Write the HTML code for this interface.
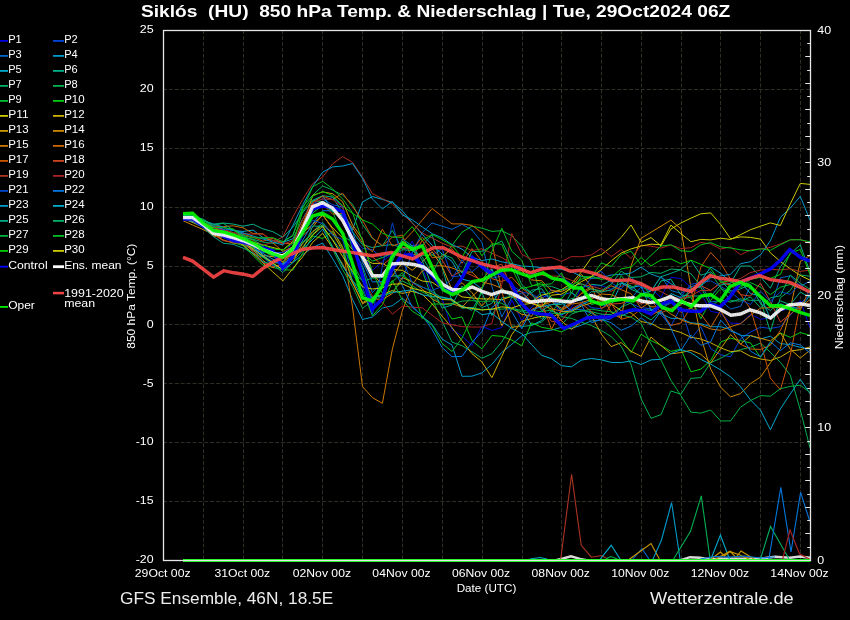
<!DOCTYPE html>
<html><head><meta charset="utf-8"><title>Siklos GFS Ensemble</title>
<style>html,body{margin:0;padding:0;background:#000;width:850px;height:620px;overflow:hidden}svg{display:block;will-change:transform}text{font-family:"Liberation Sans",sans-serif}</style>
</head><body>
<svg width="850" height="620" viewBox="0 0 850 620">
<rect width="850" height="620" fill="#000"/>
<path d="M203.5 30.2V560.5M243.5 30.2V560.5M282.5 30.2V560.5M322.5 30.2V560.5M362.5 30.2V560.5M402.5 30.2V560.5M442.5 30.2V560.5M482.5 30.2V560.5M522.5 30.2V560.5M561.5 30.2V560.5M601.5 30.2V560.5M641.5 30.2V560.5M681.5 30.2V560.5M720.5 30.2V560.5M760.5 30.2V560.5M800.5 30.2V560.5" stroke="#2f2e24" stroke-width="1" stroke-dasharray="4 1.9" fill="none"/>
<path d="M163.0 501.5H810.5M163.0 442.5H810.5M163.0 383.5H810.5M163.0 324.5H810.5M163.0 266.5H810.5M163.0 207.5H810.5M163.0 148.5H810.5M163.0 89.5H810.5" stroke="#2f2e24" stroke-width="1" stroke-dasharray="4 1.9" fill="none"/>
<polyline points="183.4,217.4 193.3,218.5 203.3,221.8 213.2,230.0 223.2,235.6 233.2,235.5 243.1,236.0 253.1,245.7 263.0,252.1 272.9,252.0 282.9,256.7 292.9,241.4 302.8,225.3 312.8,204.9 322.7,202.6 332.6,208.8 342.6,217.8 352.5,236.5 362.5,252.3 372.4,270.4 382.4,261.2 392.4,253.8 402.3,256.9 412.2,241.3 422.2,267.4 432.1,292.8 442.1,298.3 452.0,329.6 462.0,335.9 471.9,345.5 481.9,326.2 491.9,330.4 501.8,327.5 511.8,299.9 521.7,320.5 531.6,307.1 541.6,295.7 551.5,297.8 561.5,315.6 571.4,307.5 581.4,287.2 591.4,286.0 601.3,285.7 611.2,289.2 621.2,282.6 631.1,289.3 641.1,283.7 651.0,288.1 661.0,297.6 670.9,277.3 680.9,278.6 690.9,287.5 700.8,293.0 710.7,311.3 720.7,313.3 730.6,322.9 740.6,323.7 750.5,314.3 760.5,319.2 770.4,318.0 780.4,310.6 790.3,308.8 800.3,300.7 810.0,327.7" fill="none" stroke="#0000dd" stroke-width="1.0" stroke-linejoin="miter"/>
<polyline points="183.4,217.4 193.3,217.8 203.3,223.8 213.2,231.8 223.2,229.3 233.2,233.8 243.1,240.8 253.1,250.3 263.0,252.3 272.9,252.5 282.9,252.6 292.9,246.6 302.8,225.6 312.8,204.0 322.7,198.8 332.6,204.7 342.6,207.0 352.5,237.2 362.5,248.3 372.4,249.8 382.4,257.8 392.4,253.6 402.3,244.5 412.2,245.5 422.2,244.7 432.1,254.7 442.1,248.8 452.0,276.7 462.0,275.7 471.9,257.3 481.9,268.0 491.9,278.2 501.8,276.1 511.8,285.5 521.7,292.0 531.6,294.1 541.6,299.6 551.5,289.7 561.5,295.5 571.4,292.3 581.4,300.8 591.4,307.6 601.3,308.9 611.2,299.8 621.2,299.4 631.1,303.8 641.1,307.7 651.0,308.7 661.0,314.7 670.9,326.1 680.9,307.0 690.9,339.0 700.8,326.7 710.7,348.8 720.7,354.8 730.6,356.8 740.6,338.8 750.5,332.0 760.5,327.2 770.4,328.5 780.4,326.6 790.3,315.3 800.3,303.3 810.0,295.0" fill="none" stroke="#0044dd" stroke-width="1.0" stroke-linejoin="miter"/>
<polyline points="183.4,217.1 193.3,217.9 203.3,223.5 213.2,229.3 223.2,231.5 233.2,235.2 243.1,242.9 253.1,247.2 263.0,256.8 272.9,266.0 282.9,267.8 292.9,251.5 302.8,228.2 312.8,210.6 322.7,201.8 332.6,197.4 342.6,206.0 352.5,246.9 362.5,266.1 372.4,292.6 382.4,282.2 392.4,274.3 402.3,279.1 412.2,253.2 422.2,232.6 432.1,223.0 442.1,226.2 452.0,229.3 462.0,224.3 471.9,230.0 481.9,242.2 491.9,286.5 501.8,317.0 511.8,297.5 521.7,293.1 531.6,302.4 541.6,291.9 551.5,297.7 561.5,311.5 571.4,309.8 581.4,309.4 591.4,313.2 601.3,321.1 611.2,318.8 621.2,306.9 631.1,298.6 641.1,286.8 651.0,291.2 661.0,276.4 670.9,290.5 680.9,293.3 690.9,286.8 700.8,283.4 710.7,302.0 720.7,300.6 730.6,309.1 740.6,306.3 750.5,286.4 760.5,298.5 770.4,306.9 780.4,277.9 790.3,275.7 800.3,286.3 810.0,281.0" fill="none" stroke="#0066cc" stroke-width="1.0" stroke-linejoin="miter"/>
<polyline points="183.4,217.2 193.3,221.7 203.3,226.1 213.2,230.6 223.2,235.1 233.2,239.6 243.1,244.1 253.1,250.5 263.0,257.0 272.9,263.5 282.9,269.9 292.9,262.6 302.8,254.6 312.8,247.4 322.7,243.0 332.6,258.6 342.6,275.6 352.5,299.4 362.5,319.5 372.4,317.0 382.4,308.0 392.4,305.7 402.3,298.3 412.2,305.6 422.2,316.4 432.1,324.2 442.1,339.2 452.0,344.9 462.0,376.3 471.9,376.2 481.9,372.9 491.9,364.4 501.8,352.3 511.8,344.3 521.7,336.0 531.6,332.2 541.6,331.5 551.5,330.1 561.5,327.3 571.4,328.5 581.4,325.1 591.4,320.9 601.3,320.4 611.2,315.8 621.2,316.0 631.1,311.6 641.1,309.4 651.0,310.3 661.0,313.6 670.9,318.3 680.9,318.5 690.9,322.8 700.8,323.7 710.7,326.7 720.7,326.7 730.6,329.5 740.6,335.6 750.5,335.7 760.5,339.0 770.4,336.2 780.4,343.6 790.3,344.7 800.3,347.3 810.0,349.2" fill="none" stroke="#0099cc" stroke-width="1.0" stroke-linejoin="miter"/>
<polyline points="183.4,217.4 193.3,217.4 203.3,225.6 213.2,231.7 223.2,231.9 233.2,230.6 243.1,231.4 253.1,230.1 263.0,237.7 272.9,240.5 282.9,242.2 292.9,238.9 302.8,218.7 312.8,201.6 322.7,195.8 332.6,210.6 342.6,215.9 352.5,229.6 362.5,202.0 372.4,196.5 382.4,199.4 392.4,202.4 402.3,210.8 412.2,222.7 422.2,234.2 432.1,245.2 442.1,254.1 452.0,261.3 462.0,279.1 471.9,281.6 481.9,288.9 491.9,269.0 501.8,291.8 511.8,295.4 521.7,308.6 531.6,325.3 541.6,320.5 551.5,310.9 561.5,314.6 571.4,310.2 581.4,304.7 591.4,300.3 601.3,304.9 611.2,305.1 621.2,283.4 631.1,287.5 641.1,285.7 651.0,310.0 661.0,305.9 670.9,293.6 680.9,297.6 690.9,292.1 700.8,281.5 710.7,267.0 720.7,273.3 730.6,281.9 740.6,281.8 750.5,293.7 760.5,295.9 770.4,318.8 780.4,303.8 790.3,307.4 800.3,308.4 810.0,295.1" fill="none" stroke="#00aacc" stroke-width="1.0" stroke-linejoin="miter"/>
<polyline points="183.4,215.0 193.3,216.1 203.3,220.2 213.2,224.1 223.2,223.0 233.2,224.1 243.1,226.2 253.1,224.2 263.0,228.9 272.9,231.7 282.9,237.3 292.9,227.2 302.8,212.6 312.8,200.1 322.7,195.7 332.6,197.0 342.6,212.9 352.5,231.9 362.5,244.7 372.4,247.5 382.4,245.6 392.4,244.6 402.3,248.0 412.2,247.4 422.2,245.6 432.1,234.7 442.1,267.3 452.0,301.5 462.0,305.7 471.9,310.3 481.9,292.6 491.9,315.5 501.8,297.8 511.8,296.6 521.7,302.4 531.6,290.2 541.6,288.7 551.5,301.6 561.5,310.0 571.4,292.6 581.4,299.8 591.4,284.3 601.3,285.4 611.2,280.1 621.2,281.4 631.1,289.3 641.1,293.5 651.0,299.3 661.0,280.9 670.9,279.3 680.9,295.0 690.9,296.0 700.8,296.0 710.7,296.4 720.7,285.0 730.6,283.3 740.6,266.1 750.5,266.0 760.5,276.8 770.4,288.2 780.4,266.8 790.3,253.8 800.3,244.9 810.0,271.9" fill="none" stroke="#00b088" stroke-width="1.0" stroke-linejoin="miter"/>
<polyline points="183.4,217.9 193.3,219.9 203.3,225.6 213.2,233.0 223.2,235.4 233.2,238.3 243.1,237.7 253.1,239.3 263.0,242.1 272.9,243.4 282.9,242.0 292.9,235.0 302.8,206.5 312.8,195.1 322.7,185.9 332.6,190.1 342.6,195.1 352.5,204.2 362.5,224.4 372.4,238.5 382.4,245.8 392.4,230.4 402.3,249.3 412.2,245.9 422.2,270.7 432.1,298.1 442.1,321.1 452.0,342.1 462.0,345.7 471.9,351.7 481.9,358.3 491.9,353.7 501.8,341.8 511.8,326.1 521.7,326.6 531.6,325.4 541.6,322.0 551.5,313.4 561.5,324.6 571.4,314.1 581.4,310.5 591.4,311.6 601.3,314.2 611.2,314.6 621.2,307.2 631.1,302.9 641.1,314.0 651.0,320.0 661.0,310.5 670.9,300.5 680.9,301.4 690.9,288.4 700.8,287.1 710.7,305.5 720.7,299.9 730.6,302.1 740.6,298.8 750.5,300.4 760.5,300.3 770.4,331.8 780.4,297.6 790.3,290.5 800.3,275.0 810.0,276.2" fill="none" stroke="#00b060" stroke-width="1.0" stroke-linejoin="miter"/>
<polyline points="183.4,217.2 193.3,221.0 203.3,224.8 213.2,228.6 223.2,232.4 233.2,236.2 243.1,240.1 253.1,245.5 263.0,251.0 272.9,256.5 282.9,261.9 292.9,252.1 302.8,243.7 312.8,231.5 322.7,222.4 332.6,234.8 342.6,248.3 352.5,263.5 362.5,281.4 372.4,278.2 382.4,277.5 392.4,276.2 402.3,275.7 412.2,281.8 422.2,286.9 432.1,291.7 442.1,297.9 452.0,299.3 462.0,308.3 471.9,307.5 481.9,309.6 491.9,309.0 501.8,309.1 511.8,308.5 521.7,310.3 531.6,310.8 541.6,311.6 551.5,310.0 561.5,316.6 571.4,318.4 581.4,322.1 591.4,325.5 601.3,330.4 611.2,336.7 621.2,346.2 631.1,364.6 641.1,398.9 651.0,418.3 661.0,414.6 670.9,391.0 680.9,394.2 690.9,378.4 700.8,377.6 710.7,362.7 720.7,358.3 730.6,352.7 740.6,349.6 750.5,347.2 760.5,343.1 770.4,352.3 780.4,362.3 790.3,375.2 800.3,410.0 810.0,447.8" fill="none" stroke="#00b050" stroke-width="1.0" stroke-linejoin="miter"/>
<polyline points="183.4,217.9 193.3,218.8 203.3,224.0 213.2,233.1 223.2,237.2 233.2,240.4 243.1,244.7 253.1,253.6 263.0,257.4 272.9,262.5 282.9,263.8 292.9,246.9 302.8,231.2 312.8,200.9 322.7,201.5 332.6,211.4 342.6,235.8 352.5,242.3 362.5,252.2 372.4,261.2 382.4,257.6 392.4,252.8 402.3,255.8 412.2,254.3 422.2,255.3 432.1,255.0 442.1,259.4 452.0,245.3 462.0,232.2 471.9,226.2 481.9,228.1 491.9,231.4 501.8,230.7 511.8,235.7 521.7,246.3 531.6,262.3 541.6,299.2 551.5,311.4 561.5,301.2 571.4,301.8 581.4,285.7 591.4,304.6 601.3,301.8 611.2,297.6 621.2,275.4 631.1,288.3 641.1,282.0 651.0,296.4 661.0,305.8 670.9,302.5 680.9,299.2 690.9,297.0 700.8,318.8 710.7,300.3 720.7,288.5 730.6,293.2 740.6,285.8 750.5,282.6 760.5,287.2 770.4,294.6 780.4,287.2 790.3,284.5 800.3,288.4 810.0,292.8" fill="none" stroke="#00c030" stroke-width="1.0" stroke-linejoin="miter"/>
<polyline points="183.4,218.1 193.3,218.3 203.3,225.5 213.2,233.3 223.2,235.1 233.2,242.6 243.1,245.6 253.1,255.8 263.0,265.2 272.9,267.4 282.9,269.8 292.9,270.1 302.8,252.9 312.8,235.9 322.7,238.5 332.6,231.3 342.6,246.6 352.5,281.2 362.5,290.3 372.4,315.9 382.4,304.6 392.4,281.8 402.3,272.5 412.2,286.8 422.2,318.5 432.1,304.0 442.1,304.0 452.0,319.0 462.0,316.9 471.9,340.6 481.9,348.9 491.9,335.5 501.8,336.3 511.8,340.1 521.7,345.8 531.6,322.8 541.6,327.3 551.5,329.1 561.5,331.9 571.4,326.9 581.4,321.9 591.4,312.5 601.3,318.0 611.2,327.7 621.2,339.0 631.1,352.5 641.1,334.2 651.0,340.6 661.0,345.3 670.9,351.4 680.9,349.2 690.9,371.8 700.8,369.2 710.7,360.6 720.7,342.1 730.6,338.1 740.6,340.7 750.5,342.9 760.5,357.3 770.4,343.4 780.4,333.1 790.3,337.4 800.3,332.5 810.0,335.3" fill="none" stroke="#00cc10" stroke-width="1.0" stroke-linejoin="miter"/>
<polyline points="183.4,216.2 193.3,220.1 203.3,224.1 213.2,228.1 223.2,232.1 233.2,236.1 243.1,240.0 253.1,242.5 263.0,245.0 272.9,247.5 282.9,250.0 292.9,241.4 302.8,232.7 312.8,224.3 322.7,215.3 332.6,227.8 342.6,237.9 352.5,249.6 362.5,258.1 372.4,263.4 382.4,263.3 392.4,269.5 402.3,270.3 412.2,276.2 422.2,281.0 432.1,282.2 442.1,289.0 452.0,290.6 462.0,296.9 471.9,297.9 481.9,298.9 491.9,299.0 501.8,299.8 511.8,296.2 521.7,298.5 531.6,301.7 541.6,295.2 551.5,292.8 561.5,289.5 571.4,283.8 581.4,271.9 591.4,257.7 601.3,254.7 611.2,247.0 621.2,237.4 631.1,225.0 641.1,242.4 651.0,237.6 661.0,245.9 670.9,229.1 680.9,223.0 690.9,218.2 700.8,213.8 710.7,212.9 720.7,224.5 730.6,238.8 740.6,236.9 750.5,237.4 760.5,239.1 770.4,252.8 780.4,261.5 790.3,268.8 800.3,275.4 810.0,280.2" fill="none" stroke="#cccc00" stroke-width="1.0" stroke-linejoin="miter"/>
<polyline points="183.4,216.2 193.3,221.0 203.3,225.8 213.2,230.6 223.2,235.4 233.2,240.2 243.1,245.1 253.1,254.0 263.0,263.0 272.9,272.0 282.9,280.9 292.9,268.4 302.8,256.7 312.8,242.2 322.7,233.3 332.6,248.1 342.6,264.2 352.5,282.9 362.5,302.7 372.4,297.3 382.4,294.6 392.4,290.4 402.3,293.4 412.2,291.4 422.2,294.3 432.1,303.9 442.1,316.2 452.0,327.6 462.0,340.8 471.9,353.6 481.9,361.9 491.9,377.6 501.8,356.3 511.8,334.6 521.7,321.3 531.6,318.5 541.6,316.2 551.5,317.8 561.5,311.7 571.4,311.6 581.4,306.0 591.4,303.0 601.3,300.6 611.2,303.9 621.2,310.6 631.1,312.9 641.1,321.6 651.0,323.3 661.0,328.8 670.9,329.6 680.9,332.5 690.9,337.2 700.8,339.0 710.7,342.8 720.7,347.9 730.6,351.6 740.6,350.8 750.5,356.3 760.5,359.0 770.4,360.5 780.4,357.0 790.3,351.0 800.3,349.7 810.0,346.9" fill="none" stroke="#ccb000" stroke-width="1.0" stroke-linejoin="miter"/>
<polyline points="183.4,218.7 193.3,222.8 203.3,227.1 213.2,236.1 223.2,237.3 233.2,241.3 243.1,240.4 253.1,243.2 263.0,255.5 272.9,256.7 282.9,254.2 292.9,251.1 302.8,225.1 312.8,195.3 322.7,191.9 332.6,193.7 342.6,201.7 352.5,224.9 362.5,239.1 372.4,273.4 382.4,285.1 392.4,275.7 402.3,263.0 412.2,270.3 422.2,262.1 432.1,251.7 442.1,266.4 452.0,289.7 462.0,282.7 471.9,292.6 481.9,305.9 491.9,294.8 501.8,325.7 511.8,308.3 521.7,314.2 531.6,316.3 541.6,296.9 551.5,307.2 561.5,320.8 571.4,329.4 581.4,321.5 591.4,315.6 601.3,334.1 611.2,346.6 621.2,342.6 631.1,351.3 641.1,356.3 651.0,337.1 661.0,345.6 670.9,353.8 680.9,352.6 690.9,350.3 700.8,354.3 710.7,363.0 720.7,348.7 730.6,334.5 740.6,344.2 750.5,335.5 760.5,338.3 770.4,340.9 780.4,332.8 790.3,349.1 800.3,358.0 810.0,350.3" fill="none" stroke="#cc9900" stroke-width="1.0" stroke-linejoin="miter"/>
<polyline points="183.4,220.9 193.3,225.3 203.3,229.7 213.2,234.3 223.2,239.9 233.2,243.2 243.1,243.0 253.1,250.2 263.0,260.4 272.9,267.7 282.9,263.0 292.9,262.3 302.8,242.7 312.8,231.5 322.7,224.7 332.6,232.8 342.6,251.1 352.5,282.1 362.5,303.8 372.4,298.7 382.4,299.5 392.4,293.5 402.3,277.5 412.2,282.0 422.2,288.9 432.1,299.0 442.1,304.2 452.0,303.6 462.0,307.2 471.9,296.6 481.9,287.3 491.9,274.0 501.8,268.1 511.8,270.5 521.7,270.8 531.6,279.9 541.6,280.8 551.5,290.7 561.5,291.6 571.4,286.9 581.4,274.2 591.4,286.6 601.3,295.7 611.2,312.1 621.2,318.5 631.1,265.8 641.1,238.3 651.0,232.3 661.0,226.2 670.9,220.1 680.9,228.9 690.9,287.6 700.8,336.8 710.7,369.2 720.7,387.3 730.6,396.9 740.6,393.6 750.5,383.6 760.5,377.1 770.4,362.8 780.4,348.6 790.3,309.3 800.3,261.5 810.0,255.5" fill="none" stroke="#cc8800" stroke-width="1.0" stroke-linejoin="miter"/>
<polyline points="183.4,216.1 193.3,219.8 203.3,223.4 213.2,227.1 223.2,230.7 233.2,234.4 243.1,238.1 253.1,244.0 263.0,250.0 272.9,256.0 282.9,261.9 292.9,248.7 302.8,235.5 312.8,227.0 322.7,214.4 332.6,229.3 342.6,247.6 352.5,307.0 362.5,386.5 372.4,397.6 382.4,403.3 392.4,348.9 402.3,310.8 412.2,285.0 422.2,271.0 432.1,265.9 442.1,265.7 452.0,267.9 462.0,271.9 471.9,272.1 481.9,281.9 491.9,284.4 501.8,288.3 511.8,296.2 521.7,301.2 531.6,303.6 541.6,305.1 551.5,309.0 561.5,310.8 571.4,304.1 581.4,302.7 591.4,299.2 601.3,294.0 611.2,294.7 621.2,299.1 631.1,299.4 641.1,299.3 651.0,306.8 661.0,307.0 670.9,314.0 680.9,319.8 690.9,323.5 700.8,324.9 710.7,329.0 720.7,330.3 730.6,326.7 740.6,323.7 750.5,315.4 760.5,308.0 770.4,307.7 780.4,307.5 790.3,303.6 800.3,307.0 810.0,299.6" fill="none" stroke="#cc7700" stroke-width="1.0" stroke-linejoin="miter"/>
<polyline points="183.4,215.2 193.3,217.1 203.3,220.5 213.2,226.0 223.2,226.6 233.2,225.8 243.1,227.8 253.1,233.5 263.0,233.8 272.9,242.9 282.9,251.4 292.9,246.9 302.8,226.8 312.8,206.7 322.7,204.3 332.6,214.0 342.6,213.4 352.5,227.7 362.5,242.9 372.4,251.7 382.4,229.2 392.4,246.0 402.3,242.6 412.2,232.1 422.2,220.1 432.1,208.6 442.1,216.3 452.0,223.9 462.0,223.9 471.9,225.4 481.9,232.7 491.9,242.2 501.8,291.4 511.8,327.7 521.7,325.2 531.6,309.4 541.6,305.1 551.5,301.7 561.5,308.3 571.4,302.7 581.4,293.7 591.4,288.6 601.3,291.8 611.2,285.8 621.2,289.7 631.1,293.8 641.1,308.1 651.0,301.6 661.0,299.7 670.9,300.1 680.9,312.4 690.9,307.9 700.8,314.1 710.7,327.3 720.7,310.8 730.6,328.1 740.6,344.3 750.5,349.0 760.5,349.4 770.4,345.2 780.4,330.4 790.3,309.7 800.3,310.2 810.0,287.7" fill="none" stroke="#cc6600" stroke-width="1.0" stroke-linejoin="miter"/>
<polyline points="183.4,218.0 193.3,220.1 203.3,227.7 213.2,234.2 223.2,233.9 233.2,236.9 243.1,234.4 253.1,237.2 263.0,241.2 272.9,238.3 282.9,243.6 292.9,243.6 302.8,222.5 312.8,202.5 322.7,196.2 332.6,199.8 342.6,193.1 352.5,206.7 362.5,220.3 372.4,237.9 382.4,245.8 392.4,237.2 402.3,235.1 412.2,259.1 422.2,240.1 432.1,257.8 442.1,256.5 452.0,248.6 462.0,263.3 471.9,248.6 481.9,261.3 491.9,278.7 501.8,281.5 511.8,277.2 521.7,288.1 531.6,295.3 541.6,301.6 551.5,329.3 561.5,309.8 571.4,303.6 581.4,293.1 591.4,286.3 601.3,308.5 611.2,303.4 621.2,319.3 631.1,316.7 641.1,309.2 651.0,315.0 661.0,310.3 670.9,325.6 680.9,322.9 690.9,307.4 700.8,267.2 710.7,252.5 720.7,263.1 730.6,279.4 740.6,294.4 750.5,309.1 760.5,341.6 770.4,378.1 780.4,389.8 790.3,355.4 800.3,303.7 810.0,304.2" fill="none" stroke="#cc5500" stroke-width="1.0" stroke-linejoin="miter"/>
<polyline points="183.4,219.3 193.3,220.7 203.3,227.5 213.2,234.4 223.2,240.7 233.2,242.1 243.1,242.6 253.1,251.7 263.0,262.8 272.9,266.9 282.9,265.0 292.9,250.5 302.8,230.7 312.8,203.8 322.7,206.9 332.6,207.4 342.6,222.1 352.5,235.9 362.5,255.5 372.4,256.8 382.4,265.2 392.4,256.9 402.3,247.3 412.2,249.4 422.2,237.3 432.1,248.7 442.1,259.9 452.0,276.0 462.0,270.8 471.9,275.3 481.9,280.2 491.9,267.4 501.8,264.2 511.8,289.7 521.7,291.9 531.6,301.6 541.6,307.8 551.5,321.5 561.5,320.5 571.4,309.0 581.4,303.4 591.4,311.6 601.3,321.5 611.2,304.0 621.2,303.5 631.1,298.5 641.1,304.1 651.0,299.6 661.0,313.1 670.9,308.1 680.9,305.1 690.9,290.1 700.8,285.7 710.7,290.3 720.7,282.5 730.6,285.0 740.6,294.7 750.5,296.1 760.5,282.9 770.4,301.7 780.4,322.0 790.3,314.3 800.3,305.6 810.0,303.6" fill="none" stroke="#cc4422" stroke-width="1.0" stroke-linejoin="miter"/>
<polyline points="183.4,216.1 193.3,219.4 203.3,222.8 213.2,226.1 223.2,229.4 233.2,232.7 243.1,236.0 253.1,240.5 263.0,245.0 272.9,242.3 282.9,236.8 292.9,216.9 302.8,199.3 312.8,183.5 322.7,177.0 332.6,163.8 342.6,156.6 352.5,162.3 362.5,177.2 372.4,193.8 382.4,198.5 392.4,204.2 402.3,213.5 412.2,223.0 422.2,233.1 432.1,238.0 442.1,243.2 452.0,247.0 462.0,246.0 471.9,250.6 481.9,248.8 491.9,253.3 501.8,257.6 511.8,263.9 521.7,268.9 531.6,271.8 541.6,275.2 551.5,276.0 561.5,276.4 571.4,280.3 581.4,284.3 591.4,286.2 601.3,289.0 611.2,291.3 621.2,286.3 631.1,283.3 641.1,285.5 651.0,287.9 661.0,291.5 670.9,297.0 680.9,298.6 690.9,295.7 700.8,290.4 710.7,290.7 720.7,282.9 730.6,281.4 740.6,278.5 750.5,272.5 760.5,270.1 770.4,269.4 780.4,269.9 790.3,268.8 800.3,271.4 810.0,270.1" fill="none" stroke="#aa3322" stroke-width="1.0" stroke-linejoin="miter"/>
<polyline points="183.4,215.8 193.3,217.5 203.3,224.5 213.2,228.5 223.2,229.9 233.2,232.7 243.1,233.6 253.1,234.1 263.0,234.2 272.9,240.3 282.9,244.1 292.9,240.6 302.8,218.9 312.8,202.4 322.7,198.9 332.6,199.5 342.6,206.7 352.5,244.8 362.5,277.2 372.4,296.0 382.4,302.4 392.4,314.2 402.3,306.2 412.2,307.2 422.2,307.8 432.1,315.2 442.1,322.7 452.0,324.8 462.0,326.7 471.9,327.0 481.9,327.0 491.9,323.4 501.8,284.3 511.8,233.5 521.7,254.2 531.6,259.4 541.6,258.1 551.5,257.5 561.5,261.4 571.4,256.6 581.4,256.8 591.4,254.9 601.3,248.3 611.2,256.5 621.2,249.5 631.1,258.5 641.1,245.1 651.0,246.2 661.0,248.1 670.9,244.9 680.9,248.6 690.9,247.7 700.8,242.3 710.7,243.9 720.7,249.0 730.6,246.9 740.6,254.8 750.5,250.0 760.5,248.9 770.4,247.4 780.4,243.9 790.3,239.8 800.3,239.5 810.0,243.2" fill="none" stroke="#aa2222" stroke-width="1.0" stroke-linejoin="miter"/>
<polyline points="183.4,215.5 193.3,216.7 203.3,221.9 213.2,233.0 223.2,230.0 233.2,236.7 243.1,241.3 253.1,244.5 263.0,249.8 272.9,255.6 282.9,255.8 292.9,249.0 302.8,231.7 312.8,220.4 322.7,223.5 332.6,235.1 342.6,239.6 352.5,274.9 362.5,287.2 372.4,314.4 382.4,266.5 392.4,222.9 402.3,259.8 412.2,282.8 422.2,287.2 432.1,290.3 442.1,286.7 452.0,279.5 462.0,259.8 471.9,271.8 481.9,264.2 491.9,266.7 501.8,269.4 511.8,269.8 521.7,269.6 531.6,274.3 541.6,269.0 551.5,266.3 561.5,277.4 571.4,283.8 581.4,290.4 591.4,277.8 601.3,271.1 611.2,282.9 621.2,288.9 631.1,276.9 641.1,287.8 651.0,300.1 661.0,307.9 670.9,303.2 680.9,296.3 690.9,284.3 700.8,282.6 710.7,280.8 720.7,286.5 730.6,291.9 740.6,300.2 750.5,304.5 760.5,291.2 770.4,301.1 780.4,291.9 790.3,294.3 800.3,283.3 810.0,296.7" fill="none" stroke="#0044cc" stroke-width="1.0" stroke-linejoin="miter"/>
<polyline points="183.4,214.4 193.3,217.1 203.3,220.4 213.2,226.6 223.2,229.1 233.2,229.7 243.1,234.5 253.1,245.6 263.0,255.4 272.9,261.8 282.9,263.6 292.9,258.1 302.8,240.0 312.8,223.4 322.7,210.7 332.6,210.9 342.6,210.7 352.5,231.2 362.5,262.4 372.4,281.9 382.4,281.6 392.4,267.7 402.3,285.4 412.2,307.1 422.2,315.5 432.1,329.5 442.1,347.5 452.0,356.7 462.0,356.4 471.9,342.5 481.9,331.6 491.9,307.6 501.8,299.3 511.8,311.7 521.7,328.6 531.6,310.3 541.6,306.4 551.5,304.7 561.5,302.6 571.4,310.7 581.4,304.6 591.4,322.8 601.3,319.2 611.2,322.8 621.2,330.3 631.1,326.1 641.1,317.8 651.0,325.2 661.0,310.9 670.9,328.2 680.9,350.6 690.9,335.0 700.8,345.3 710.7,341.9 720.7,320.1 730.6,331.1 740.6,334.6 750.5,351.2 760.5,356.8 770.4,341.6 780.4,350.6 790.3,342.8 800.3,344.9 810.0,352.9" fill="none" stroke="#0077dd" stroke-width="1.0" stroke-linejoin="miter"/>
<polyline points="183.4,215.1 193.3,218.1 203.3,221.1 213.2,224.1 223.2,227.1 233.2,230.0 243.1,233.0 253.1,236.0 263.0,239.0 272.9,242.0 282.9,245.0 292.9,225.3 302.8,204.5 312.8,186.3 322.7,172.1 332.6,166.9 342.6,166.0 352.5,163.5 362.5,178.3 372.4,199.0 382.4,208.9 392.4,201.5 402.3,214.9 412.2,219.8 422.2,226.9 432.1,233.6 442.1,237.9 452.0,244.6 462.0,249.1 471.9,257.3 481.9,260.5 491.9,259.0 501.8,261.8 511.8,263.7 521.7,266.0 531.6,266.6 541.6,267.6 551.5,268.3 561.5,269.4 571.4,271.7 581.4,276.4 591.4,278.3 601.3,277.7 611.2,275.0 621.2,274.4 631.1,273.0 641.1,267.1 651.0,274.1 661.0,277.6 670.9,283.6 680.9,289.9 690.9,290.1 700.8,286.0 710.7,277.8 720.7,275.9 730.6,274.3 740.6,263.7 750.5,261.7 760.5,254.9 770.4,240.8 780.4,217.4 790.3,208.1 800.3,196.4 810.0,220.2" fill="none" stroke="#0099cc" stroke-width="1.0" stroke-linejoin="miter"/>
<polyline points="183.4,218.2 193.3,222.1 203.3,226.1 213.2,230.1 223.2,234.1 233.2,238.1 243.1,242.1 253.1,247.8 263.0,253.5 272.9,259.2 282.9,264.9 292.9,256.4 302.8,249.7 312.8,239.2 322.7,229.0 332.6,246.5 342.6,266.1 352.5,280.3 362.5,298.2 372.4,297.4 382.4,295.8 392.4,292.5 402.3,291.2 412.2,289.8 422.2,294.8 432.1,296.6 442.1,297.0 452.0,299.1 462.0,307.3 471.9,307.7 481.9,314.7 491.9,313.2 501.8,321.4 511.8,328.4 521.7,333.7 531.6,344.6 541.6,355.3 551.5,358.7 561.5,365.7 571.4,366.8 581.4,360.1 591.4,358.5 601.3,359.8 611.2,362.4 621.2,362.6 631.1,360.9 641.1,364.5 651.0,359.9 661.0,359.3 670.9,353.8 680.9,349.6 690.9,352.7 700.8,359.4 710.7,364.1 720.7,370.0 730.6,376.9 740.6,386.8 750.5,399.9 760.5,410.2 770.4,429.7 780.4,408.9 790.3,393.9 800.3,379.3 810.0,393.7" fill="none" stroke="#00aacc" stroke-width="1.0" stroke-linejoin="miter"/>
<polyline points="183.4,217.7 193.3,221.3 203.3,227.9 213.2,236.4 223.2,243.2 233.2,244.3 243.1,248.1 253.1,253.1 263.0,261.9 272.9,264.4 282.9,272.6 292.9,262.1 302.8,250.3 312.8,225.8 322.7,226.7 332.6,239.4 342.6,252.5 352.5,273.6 362.5,280.1 372.4,298.3 382.4,294.8 392.4,261.5 402.3,239.0 412.2,245.8 422.2,260.1 432.1,287.0 442.1,308.1 452.0,305.0 462.0,286.0 471.9,297.5 481.9,307.6 491.9,303.4 501.8,288.7 511.8,297.7 521.7,287.2 531.6,293.2 541.6,310.7 551.5,304.6 561.5,304.4 571.4,298.5 581.4,300.7 591.4,291.6 601.3,292.1 611.2,289.8 621.2,282.7 631.1,285.9 641.1,294.2 651.0,291.0 661.0,276.7 670.9,273.4 680.9,269.4 690.9,260.3 700.8,275.3 710.7,271.9 720.7,280.1 730.6,291.0 740.6,288.9 750.5,284.3 760.5,303.7 770.4,310.7 780.4,300.9 790.3,304.7 800.3,292.1 810.0,297.3" fill="none" stroke="#00aa88" stroke-width="1.0" stroke-linejoin="miter"/>
<polyline points="183.4,214.5 193.3,216.2 203.3,219.2 213.2,225.4 223.2,223.3 233.2,229.9 243.1,236.8 253.1,239.7 263.0,246.2 272.9,255.6 282.9,257.9 292.9,247.4 302.8,233.9 312.8,212.9 322.7,205.2 332.6,211.2 342.6,215.2 352.5,249.1 362.5,268.1 372.4,304.3 382.4,285.2 392.4,256.8 402.3,249.6 412.2,250.6 422.2,256.8 432.1,273.7 442.1,254.1 452.0,258.0 462.0,273.1 471.9,251.6 481.9,251.3 491.9,245.9 501.8,241.0 511.8,261.5 521.7,284.7 531.6,292.8 541.6,285.7 551.5,286.4 561.5,290.1 571.4,286.7 581.4,283.7 591.4,289.2 601.3,290.7 611.2,284.3 621.2,271.1 631.1,277.5 641.1,276.8 651.0,272.5 661.0,273.3 670.9,269.0 680.9,269.8 690.9,273.7 700.8,285.8 710.7,273.3 720.7,287.3 730.6,300.7 740.6,301.1 750.5,297.0 760.5,307.7 770.4,297.8 780.4,295.8 790.3,275.0 800.3,283.2 810.0,289.3" fill="none" stroke="#00b066" stroke-width="1.0" stroke-linejoin="miter"/>
<polyline points="183.4,217.2 193.3,221.1 203.3,225.1 213.2,229.1 223.2,233.1 233.2,237.1 243.1,241.0 253.1,245.3 263.0,249.5 272.9,253.7 282.9,258.0 292.9,250.1 302.8,241.9 312.8,234.0 322.7,224.5 332.6,249.3 342.6,269.6 352.5,286.5 362.5,308.4 372.4,301.0 382.4,295.8 392.4,291.5 402.3,280.9 412.2,285.8 422.2,292.1 432.1,296.0 442.1,304.8 452.0,304.0 462.0,301.1 471.9,300.6 481.9,301.4 491.9,301.0 501.8,303.3 511.8,308.9 521.7,311.8 531.6,312.8 541.6,318.4 551.5,313.2 561.5,313.6 571.4,311.9 581.4,311.4 591.4,309.1 601.3,310.8 611.2,311.8 621.2,314.9 631.1,317.2 641.1,323.6 651.0,344.0 661.0,360.1 670.9,380.3 680.9,395.6 690.9,412.1 700.8,413.1 710.7,410.0 720.7,421.0 730.6,420.9 740.6,407.1 750.5,400.6 760.5,395.6 770.4,396.2 780.4,388.7 790.3,386.4 800.3,385.2 810.0,392.5" fill="none" stroke="#00b040" stroke-width="1.0" stroke-linejoin="miter"/>
<polyline points="183.4,217.0 193.3,218.0 203.3,220.4 213.2,227.2 223.2,227.8 233.2,228.9 243.1,235.6 253.1,237.9 263.0,237.8 272.9,237.7 282.9,241.7 292.9,235.7 302.8,208.7 312.8,186.7 322.7,181.3 332.6,188.9 342.6,198.9 352.5,212.6 362.5,241.2 372.4,272.1 382.4,293.7 392.4,280.4 402.3,299.9 412.2,311.1 422.2,317.2 432.1,325.3 442.1,343.4 452.0,351.5 462.0,338.1 471.9,318.1 481.9,289.3 491.9,251.5 501.8,228.2 511.8,251.2 521.7,260.2 531.6,285.5 541.6,284.7 551.5,283.8 561.5,272.9 571.4,293.3 581.4,276.4 591.4,277.0 601.3,262.9 611.2,266.5 621.2,254.7 631.1,251.2 641.1,264.8 651.0,255.4 661.0,246.1 670.9,244.8 680.9,250.8 690.9,251.5 700.8,244.8 710.7,242.6 720.7,246.9 730.6,248.0 740.6,249.8 750.5,250.9 760.5,248.8 770.4,250.3 780.4,244.8 790.3,239.8 800.3,239.8 810.0,241.8" fill="none" stroke="#00c020" stroke-width="1.0" stroke-linejoin="miter"/>
<polyline points="183.4,218.0 193.3,219.2 203.3,222.9 213.2,232.7 223.2,236.1 233.2,235.8 243.1,241.6 253.1,247.6 263.0,245.0 272.9,248.8 282.9,250.0 292.9,243.2 302.8,211.1 312.8,196.2 322.7,191.5 332.6,195.6 342.6,205.7 352.5,213.4 362.5,219.9 372.4,224.0 382.4,233.2 392.4,237.2 402.3,237.3 412.2,226.6 422.2,240.5 432.1,234.4 442.1,239.6 452.0,245.3 462.0,257.8 471.9,238.6 481.9,255.8 491.9,243.8 501.8,244.2 511.8,268.2 521.7,288.5 531.6,286.3 541.6,282.5 551.5,298.2 561.5,298.9 571.4,285.7 581.4,279.2 591.4,276.3 601.3,279.4 611.2,277.6 621.2,268.8 631.1,267.1 641.1,257.5 651.0,265.9 661.0,259.9 670.9,258.9 680.9,263.8 690.9,260.2 700.8,264.3 710.7,268.7 720.7,282.4 730.6,280.5 740.6,287.8 750.5,279.3 760.5,277.4 770.4,278.4 780.4,274.4 790.3,253.0 800.3,249.5 810.0,274.5" fill="none" stroke="#00cc00" stroke-width="1.0" stroke-linejoin="miter"/>
<polyline points="183.4,217.2 193.3,221.3 203.3,225.5 213.2,229.6 223.2,233.8 233.2,237.9 243.1,242.1 253.1,249.0 263.0,256.0 272.9,263.0 282.9,269.9 292.9,258.9 302.8,247.0 312.8,234.8 322.7,226.3 332.6,240.0 342.6,256.5 352.5,271.0 362.5,286.8 372.4,289.0 382.4,287.9 392.4,284.2 402.3,283.8 412.2,288.4 422.2,290.6 432.1,293.9 442.1,299.5 452.0,299.9 462.0,306.8 471.9,308.5 481.9,310.0 491.9,309.2 501.8,306.8 511.8,308.0 521.7,304.6 531.6,303.4 541.6,307.0 551.5,295.2 561.5,294.2 571.4,288.2 581.4,281.6 591.4,276.7 601.3,269.7 611.2,260.9 621.2,253.1 631.1,248.9 641.1,246.0 651.0,244.2 661.0,244.7 670.9,225.1 680.9,233.6 690.9,241.7 700.8,239.4 710.7,239.9 720.7,238.2 730.6,239.5 740.6,234.7 750.5,229.7 760.5,226.2 770.4,222.9 780.4,225.5 790.3,203.8 800.3,183.4 810.0,184.4" fill="none" stroke="#cccc00" stroke-width="1.0" stroke-linejoin="miter"/>
<polyline points="183,560.5 555,560.5 563,558.5 571,556.3 580,558.8 588,560.5 680,560.5 690,557.2 700,557.8 710,559.5 720,558.8 760,558.8 775,556.8 790,557.8 800,556.5 810,557.8" fill="none" stroke="#ffffff" stroke-width="2.4" stroke-opacity="0.85"/>
<polyline points="560.7,559.5 571.6,474.3 581.2,545.3 591.4,557.2 601.6,555.5 608.5,559.5" fill="none" stroke="#aa3322" stroke-width="1.1"/>
<polyline points="600.0,559.5 611.2,545.3 620.4,559.5" fill="none" stroke="#00aacc" stroke-width="1.1"/>
<polyline points="632.4,559.5 641.9,548.7 649.4,559.5" fill="none" stroke="#0066cc" stroke-width="1.1"/>
<polyline points="629.0,559.5 651.0,543.6 659.6,559.5" fill="none" stroke="#cc9900" stroke-width="1.1"/>
<polyline points="652.8,559.5 661.4,540.2 671.6,502.6 680.1,559.5" fill="none" stroke="#0099cc" stroke-width="1.1"/>
<polyline points="673.3,559.5 690.4,531.6 701.3,495.8 710.1,559.5" fill="none" stroke="#00b050" stroke-width="1.1"/>
<polyline points="710.8,559.5 720.4,535.0 729.6,559.5" fill="none" stroke="#00aacc" stroke-width="1.1"/>
<polyline points="715.0,559.5 729.6,551.4 740.0,555.0 750.0,559.5" fill="none" stroke="#cc9900" stroke-width="1.1"/>
<polyline points="760.3,559.5 770.5,526.5 789.3,559.5" fill="none" stroke="#00b060" stroke-width="1.1"/>
<polyline points="768.8,559.5 780.8,487.3 791.0,552.0 800.6,492.4 809.8,521.4" fill="none" stroke="#0077dd" stroke-width="1.1"/>
<polyline points="782.5,559.5 790.0,530.0 799.5,553.8 810.0,559.5" fill="none" stroke="#aa2222" stroke-width="1.1"/>
<polyline points="711.3,559.0 720.4,552.0 724.5,556.0 730.2,551.3 736.0,557.5 741.0,551.0 754.0,559.0" fill="none" stroke="#cc9900" stroke-width="1.1"/>
<polyline points="530.0,559.0 540.0,557.5 547.0,559.0" fill="none" stroke="#00aacc" stroke-width="1.1"/>
<polyline points="605.9,559.0 610.8,556.5 617.4,559.0" fill="none" stroke="#00b050" stroke-width="1.1"/>
<polyline points="700.0,559.0 715.0,556.5 730.0,557.0 745.0,556.0 760.0,558.0 775.0,557.0" fill="none" stroke="#0077dd" stroke-width="1.1"/>
<polyline points="183.1,219 192.6,219 203.4,226.3 213.6,230.6 223.7,236.5 233.9,240.8 243.5,242.3 254.2,245.2 262.9,248 273.1,251 282.7,268.4 292,258.2 302.1,233.6 312.3,208.9 322.4,206 332.6,207.4 342.8,211.8 352.5,242 362.4,275.8 372.3,309 382,299.4 391.6,270.3 401.3,255.8 411,254.2 420.6,263.9 433.5,276.8 443.2,289.7 452.9,291.3 462.6,276.8 472.3,257.4 482,267 491.6,273.5 501.3,273.5 511,283.2 520.6,302.6 530.3,312.3 539.7,313.9 551,314.8 563.9,328.4 575.2,323.5 586.5,318 599.4,317 610.6,317 622,312.3 633.2,309.7 643,310.6 651,313.9 661,304.4 670.6,301 680.2,309.8 691,311.2 700.7,311.2 710.3,303.8 720,307 729.5,297.5 740.5,282.4 750,278.3 759.7,274.2 770.6,268.7 780.2,260.5 789.8,249.5 800.8,257.7 809.9,261" fill="none" stroke="#0000ff" stroke-width="3.4" stroke-opacity="0.88" stroke-linejoin="miter" stroke-linecap="butt"/>
<polyline points="183.1,219 192.6,219 203.4,226.3 213.6,230.6 223.7,236.5 233.9,240.8 243.5,242.3 254.2,245.2 262.9,248 273.1,251 282.7,268.4 292,258.2 302.1,233.6 312.3,208.9 322.4,206 332.6,207.4 342.8,211.8 352.5,242 362.4,275.8 372.3,309 382,299.4 391.6,270.3 401.3,255.8 411,254.2 420.6,263.9 433.5,276.8 443.2,289.7 452.9,291.3 462.6,276.8 472.3,257.4 482,267 491.6,273.5 501.3,273.5 511,283.2 520.6,302.6 530.3,312.3 539.7,313.9 551,314.8 563.9,328.4 575.2,323.5 586.5,318 599.4,317 610.6,317 622,312.3 633.2,309.7 643,310.6 651,313.9 661,304.4 670.6,301 680.2,309.8 691,311.2 700.7,311.2 710.3,303.8 720,307 729.5,297.5 740.5,282.4 750,278.3 759.7,274.2 770.6,268.7 780.2,260.5 789.8,249.5 800.8,257.7 809.9,261" fill="none" stroke="#0000ff" stroke-width="3.0" stroke-opacity="0.4" stroke-dasharray="1.1 1.1" stroke-linejoin="miter"/>
<polyline points="183.1,217.6 192.6,217.6 203.4,224.8 213.6,233.6 223.7,235 233.9,237.9 243.5,240.8 254.2,245.2 262.9,249.5 273.1,253.3 282.7,256.2 292.5,249.2 302.5,229.8 312.5,206.9 322.5,202.7 332.5,208 342.5,220.2 352.5,239.5 362.4,256.5 372.4,275.8 382.4,275.8 391.6,263.9 402.9,263.2 414.2,264.5 423.9,267 433.5,275 443.2,284.8 452.9,289.7 462.6,289.7 472.3,287 482,291.3 491.6,294.5 501.3,291.3 511,293 520.6,297.7 530,302 539.7,301 549.4,300 560.6,301 570.3,302 580,298.7 591.3,295.5 601,298.7 610.6,300 622,298.7 633.2,297.7 641.3,301 651,302.6 661,300.2 670.6,296.7 680.2,301.6 689.8,304.4 699.4,305.7 710.3,305.7 720,309.3 730.9,315.3 740.5,314 750,309.8 759.7,312.6 770.6,318 780.2,309.8 789.8,305 800.8,303.8 809.9,305.7" fill="none" stroke="#ffffff" stroke-width="3.4" stroke-opacity="0.85" stroke-linejoin="miter" stroke-linecap="butt"/>
<polyline points="183.1,217.6 192.6,217.6 203.4,224.8 213.6,233.6 223.7,235 233.9,237.9 243.5,240.8 254.2,245.2 262.9,249.5 273.1,253.3 282.7,256.2 292.5,249.2 302.5,229.8 312.5,206.9 322.5,202.7 332.5,208 342.5,220.2 352.5,239.5 362.4,256.5 372.4,275.8 382.4,275.8 391.6,263.9 402.9,263.2 414.2,264.5 423.9,267 433.5,275 443.2,284.8 452.9,289.7 462.6,289.7 472.3,287 482,291.3 491.6,294.5 501.3,291.3 511,293 520.6,297.7 530,302 539.7,301 549.4,300 560.6,301 570.3,302 580,298.7 591.3,295.5 601,298.7 610.6,300 622,298.7 633.2,297.7 641.3,301 651,302.6 661,300.2 670.6,296.7 680.2,301.6 689.8,304.4 699.4,305.7 710.3,305.7 720,309.3 730.9,315.3 740.5,314 750,309.8 759.7,312.6 770.6,318 780.2,309.8 789.8,305 800.8,303.8 809.9,305.7" fill="none" stroke="#ffffff" stroke-width="3.0" stroke-opacity="0.45" stroke-dasharray="1.1 1.1" stroke-linejoin="miter"/>
<polyline points="183.1,257.4 192.6,261.1 213.6,277.1 223.7,270.7 233.9,272.8 243.5,274.2 252.8,276.5 262.9,268.4 273.1,262 282.7,257.4 292,253.9 302.1,249.5 312.3,248 322.4,247.5 332.6,249.5 353,252.6 372.3,255.8 391.6,252.6 412.6,259 423.9,252.6 433.5,247.7 443.2,247.7 462.6,257.4 482,263.9 501.3,268.7 511,265.5 520.6,268.7 530,272.9 543,268.7 560.6,267 570.3,271.3 581.6,270.3 594.5,273.5 612.3,280.6 630,280 641.3,283.9 652.6,289.7 662.3,287 673.5,287 691.3,291.3 700.7,282.4 710.3,275.6 720,278.3 730.9,279.7 740.5,281.9 750,278.3 759.7,275.6 770.6,279.7 780.2,281 789.8,282.4 800.8,287.4 809.9,292" fill="none" stroke="#ff4848" stroke-width="3.4" stroke-opacity="0.85" stroke-linejoin="miter" stroke-linecap="butt"/>
<polyline points="183.1,257.4 192.6,261.1 213.6,277.1 223.7,270.7 233.9,272.8 243.5,274.2 252.8,276.5 262.9,268.4 273.1,262 282.7,257.4 292,253.9 302.1,249.5 312.3,248 322.4,247.5 332.6,249.5 353,252.6 372.3,255.8 391.6,252.6 412.6,259 423.9,252.6 433.5,247.7 443.2,247.7 462.6,257.4 482,263.9 501.3,268.7 511,265.5 520.6,268.7 530,272.9 543,268.7 560.6,267 570.3,271.3 581.6,270.3 594.5,273.5 612.3,280.6 630,280 641.3,283.9 652.6,289.7 662.3,287 673.5,287 691.3,291.3 700.7,282.4 710.3,275.6 720,278.3 730.9,279.7 740.5,281.9 750,278.3 759.7,275.6 770.6,279.7 780.2,281 789.8,282.4 800.8,287.4 809.9,292" fill="none" stroke="#ff4848" stroke-width="3.0" stroke-opacity="0.45" stroke-dasharray="1.1 1.1" stroke-linejoin="miter"/>
<polyline points="183.1,213.8 192.6,213.2 203.4,223.4 213.6,230.6 223.7,232.1 233.9,235 243.5,238.8 254.2,243.7 262.9,249.5 273.1,253.9 282.7,257.4 292,249.5 302.1,233.6 312.3,216.1 322.4,213.2 332.6,219 342.8,233.6 352,262 362.5,298 372.3,301 382,286.5 391.6,257.4 402.9,243 412.6,249.4 422.3,246 433.5,270.3 443.2,289.7 452.9,294.5 462.6,289.7 472.3,281.6 482,280 491.6,275.2 501.3,270.3 511,269.7 520.6,273.5 530,276.8 543,272.9 552.6,278.4 562.3,280 573.5,288 581.6,288 591.3,301 601,304.2 610.6,301 622,299.4 633.2,301 641.3,294.5 651,295.5 662.3,307.4 672,310.6 681.6,301 691.3,306.5 701,296 710.6,294.5 720.3,301 730,286.5 740.5,282.4 750,286.5 759.7,296 770.6,305.7 780.2,305.7 789.8,308.5 800.8,312.6 809.9,315.3" fill="none" stroke="#00ff00" stroke-width="3.4" stroke-opacity="0.85" stroke-linejoin="miter" stroke-linecap="butt"/>
<polyline points="183.1,213.8 192.6,213.2 203.4,223.4 213.6,230.6 223.7,232.1 233.9,235 243.5,238.8 254.2,243.7 262.9,249.5 273.1,253.9 282.7,257.4 292,249.5 302.1,233.6 312.3,216.1 322.4,213.2 332.6,219 342.8,233.6 352,262 362.5,298 372.3,301 382,286.5 391.6,257.4 402.9,243 412.6,249.4 422.3,246 433.5,270.3 443.2,289.7 452.9,294.5 462.6,289.7 472.3,281.6 482,280 491.6,275.2 501.3,270.3 511,269.7 520.6,273.5 530,276.8 543,272.9 552.6,278.4 562.3,280 573.5,288 581.6,288 591.3,301 601,304.2 610.6,301 622,299.4 633.2,301 641.3,294.5 651,295.5 662.3,307.4 672,310.6 681.6,301 691.3,306.5 701,296 710.6,294.5 720.3,301 730,286.5 740.5,282.4 750,286.5 759.7,296 770.6,305.7 780.2,305.7 789.8,308.5 800.8,312.6 809.9,315.3" fill="none" stroke="#00ff00" stroke-width="3.0" stroke-opacity="0.4" stroke-dasharray="1.1 1.1" stroke-linejoin="miter"/>
<path d="M183 560.5H810.5" stroke="#00ff00" stroke-width="2.8" stroke-opacity="0.9"/>
<rect x="163.5" y="30.5" width="647.0" height="530.0" fill="none" stroke="#e6e6e6" stroke-width="1.3"/>
<path d="M807.2 547.5H810.5M805.2 533.5H810.5M807.2 520.5H810.5M805.2 507.5H810.5M807.2 494.5H810.5M805.2 480.5H810.5M807.2 467.5H810.5M805.2 454.5H810.5M807.2 441.5H810.5M805.2 427.5H810.5M807.2 414.5H810.5M805.2 401.5H810.5M807.2 388.5H810.5M805.2 374.5H810.5M807.2 361.5H810.5M805.2 348.5H810.5M807.2 335.5H810.5M805.2 321.5H810.5M807.2 308.5H810.5M805.2 295.5H810.5M807.2 282.5H810.5M805.2 268.5H810.5M807.2 255.5H810.5M805.2 242.5H810.5M807.2 229.5H810.5M805.2 215.5H810.5M807.2 202.5H810.5M805.2 189.5H810.5M807.2 176.5H810.5M805.2 162.5H810.5M807.2 149.5H810.5M805.2 136.5H810.5M807.2 123.5H810.5M805.2 109.5H810.5M807.2 96.5H810.5M805.2 83.5H810.5M807.2 70.5H810.5M805.2 56.5H810.5M807.2 43.5H810.5" stroke="#e6e6e6" stroke-width="1.2"/>
<text x="153.60" y="563.20" text-anchor="end" font-size="10.82" fill="#ffffff"  textLength="17.82" lengthAdjust="spacingAndGlyphs" xml:space="preserve">-20</text>
<text x="153.60" y="504.31" text-anchor="end" font-size="10.82" fill="#ffffff"  textLength="17.82" lengthAdjust="spacingAndGlyphs" xml:space="preserve">-15</text>
<text x="153.60" y="445.42" text-anchor="end" font-size="10.82" fill="#ffffff"  textLength="17.82" lengthAdjust="spacingAndGlyphs" xml:space="preserve">-10</text>
<text x="153.60" y="386.53" text-anchor="end" font-size="10.82" fill="#ffffff"  textLength="10.88" lengthAdjust="spacingAndGlyphs" xml:space="preserve">-5</text>
<text x="153.60" y="327.64" text-anchor="end" font-size="10.82" fill="#ffffff"  textLength="6.94" lengthAdjust="spacingAndGlyphs" xml:space="preserve">0</text>
<text x="153.60" y="268.76" text-anchor="end" font-size="10.82" fill="#ffffff"  textLength="6.94" lengthAdjust="spacingAndGlyphs" xml:space="preserve">5</text>
<text x="153.60" y="209.87" text-anchor="end" font-size="10.82" fill="#ffffff"  textLength="13.88" lengthAdjust="spacingAndGlyphs" xml:space="preserve">10</text>
<text x="153.60" y="150.98" text-anchor="end" font-size="10.82" fill="#ffffff"  textLength="13.88" lengthAdjust="spacingAndGlyphs" xml:space="preserve">15</text>
<text x="153.60" y="92.09" text-anchor="end" font-size="10.82" fill="#ffffff"  textLength="13.88" lengthAdjust="spacingAndGlyphs" xml:space="preserve">20</text>
<text x="153.60" y="33.20" text-anchor="end" font-size="10.82" fill="#ffffff"  textLength="13.88" lengthAdjust="spacingAndGlyphs" xml:space="preserve">25</text>
<text x="817.30" y="563.70" text-anchor="start" font-size="10.82" fill="#ffffff"  textLength="6.94" lengthAdjust="spacingAndGlyphs" xml:space="preserve">0</text>
<text x="817.30" y="431.20" text-anchor="start" font-size="10.82" fill="#ffffff"  textLength="13.88" lengthAdjust="spacingAndGlyphs" xml:space="preserve">10</text>
<text x="817.30" y="298.70" text-anchor="start" font-size="10.82" fill="#ffffff"  textLength="13.88" lengthAdjust="spacingAndGlyphs" xml:space="preserve">20</text>
<text x="817.30" y="166.20" text-anchor="start" font-size="10.82" fill="#ffffff"  textLength="13.88" lengthAdjust="spacingAndGlyphs" xml:space="preserve">30</text>
<text x="817.30" y="33.70" text-anchor="start" font-size="10.82" fill="#ffffff"  textLength="13.88" lengthAdjust="spacingAndGlyphs" xml:space="preserve">40</text>
<text x="162.70" y="576.90" text-anchor="middle" font-size="10.82" fill="#ffffff"  textLength="55.81" lengthAdjust="spacingAndGlyphs" xml:space="preserve">29Oct 00z</text>
<text x="242.30" y="576.90" text-anchor="middle" font-size="10.82" fill="#ffffff"  textLength="55.81" lengthAdjust="spacingAndGlyphs" xml:space="preserve">31Oct 00z</text>
<text x="321.90" y="576.90" text-anchor="middle" font-size="10.82" fill="#ffffff"  textLength="58.24" lengthAdjust="spacingAndGlyphs" xml:space="preserve">02Nov 00z</text>
<text x="401.50" y="576.90" text-anchor="middle" font-size="10.82" fill="#ffffff"  textLength="58.24" lengthAdjust="spacingAndGlyphs" xml:space="preserve">04Nov 00z</text>
<text x="481.10" y="576.90" text-anchor="middle" font-size="10.82" fill="#ffffff"  textLength="58.24" lengthAdjust="spacingAndGlyphs" xml:space="preserve">06Nov 00z</text>
<text x="560.70" y="576.90" text-anchor="middle" font-size="10.82" fill="#ffffff"  textLength="58.24" lengthAdjust="spacingAndGlyphs" xml:space="preserve">08Nov 00z</text>
<text x="640.30" y="576.90" text-anchor="middle" font-size="10.82" fill="#ffffff"  textLength="58.24" lengthAdjust="spacingAndGlyphs" xml:space="preserve">10Nov 00z</text>
<text x="719.90" y="576.90" text-anchor="middle" font-size="10.82" fill="#ffffff"  textLength="58.24" lengthAdjust="spacingAndGlyphs" xml:space="preserve">12Nov 00z</text>
<text x="799.50" y="576.90" text-anchor="middle" font-size="10.82" fill="#ffffff"  textLength="58.24" lengthAdjust="spacingAndGlyphs" xml:space="preserve">14Nov 00z</text>
<text x="486.50" y="592.30" text-anchor="middle" font-size="10.82" fill="#ffffff"  textLength="59.67" lengthAdjust="spacingAndGlyphs" xml:space="preserve">Date (UTC)</text>
<g transform="translate(134.9,296.2) rotate(-90)"><text x="0.00" y="0.00" text-anchor="middle" font-size="10.82" fill="#ffffff"  textLength="105.00" lengthAdjust="spacingAndGlyphs" xml:space="preserve">850 hPa Temp. (°C)</text></g>
<g transform="translate(843.2,297) rotate(-90)"><text x="0.00" y="0.00" text-anchor="middle" font-size="10.82" fill="#ffffff"  textLength="104.48" lengthAdjust="spacingAndGlyphs" xml:space="preserve">Niederschlag (mm)</text></g>
<text x="141.00" y="16.80" text-anchor="start" font-size="16.20" font-weight="bold" fill="#ffffff"  textLength="589.27" lengthAdjust="spacingAndGlyphs" xml:space="preserve">Siklós  (HU)  850 hPa Temp. &amp; Niederschlag | Tue, 29Oct2024 06Z</text>
<text x="120.00" y="604.00" text-anchor="start" font-size="16.10" fill="#ececec"  textLength="213.22" lengthAdjust="spacingAndGlyphs" xml:space="preserve">GFS Ensemble, 46N, 18.5E</text>
<text x="650.00" y="603.80" text-anchor="start" font-size="16.10" fill="#ececec"  textLength="143.72" lengthAdjust="spacingAndGlyphs" xml:space="preserve">Wetterzentrale.de</text>
<path d="M0 40.9h8" stroke="#0000dd" stroke-width="1.8"/>
<text x="8.20" y="43.10" text-anchor="start" font-size="10.82" fill="#ffffff"  textLength="13.52" lengthAdjust="spacingAndGlyphs" xml:space="preserve">P1</text>
<path d="M53 40.9h11" stroke="#0044dd" stroke-width="1.8"/>
<text x="64.20" y="43.10" text-anchor="start" font-size="10.82" fill="#ffffff"  textLength="13.52" lengthAdjust="spacingAndGlyphs" xml:space="preserve">P2</text>
<path d="M0 55.9h8" stroke="#0066cc" stroke-width="1.8"/>
<text x="8.20" y="58.10" text-anchor="start" font-size="10.82" fill="#ffffff"  textLength="13.52" lengthAdjust="spacingAndGlyphs" xml:space="preserve">P3</text>
<path d="M53 55.9h11" stroke="#0099cc" stroke-width="1.8"/>
<text x="64.20" y="58.10" text-anchor="start" font-size="10.82" fill="#ffffff"  textLength="13.52" lengthAdjust="spacingAndGlyphs" xml:space="preserve">P4</text>
<path d="M0 70.9h8" stroke="#00aacc" stroke-width="1.8"/>
<text x="8.20" y="73.10" text-anchor="start" font-size="10.82" fill="#ffffff"  textLength="13.52" lengthAdjust="spacingAndGlyphs" xml:space="preserve">P5</text>
<path d="M53 70.9h11" stroke="#00b088" stroke-width="1.8"/>
<text x="64.20" y="73.10" text-anchor="start" font-size="10.82" fill="#ffffff"  textLength="13.52" lengthAdjust="spacingAndGlyphs" xml:space="preserve">P6</text>
<path d="M0 85.9h8" stroke="#00b060" stroke-width="1.8"/>
<text x="8.20" y="88.10" text-anchor="start" font-size="10.82" fill="#ffffff"  textLength="13.52" lengthAdjust="spacingAndGlyphs" xml:space="preserve">P7</text>
<path d="M53 85.9h11" stroke="#00b050" stroke-width="1.8"/>
<text x="64.20" y="88.10" text-anchor="start" font-size="10.82" fill="#ffffff"  textLength="13.52" lengthAdjust="spacingAndGlyphs" xml:space="preserve">P8</text>
<path d="M0 100.9h8" stroke="#00c030" stroke-width="1.8"/>
<text x="8.20" y="103.10" text-anchor="start" font-size="10.82" fill="#ffffff"  textLength="13.52" lengthAdjust="spacingAndGlyphs" xml:space="preserve">P9</text>
<path d="M53 100.9h11" stroke="#00cc10" stroke-width="1.8"/>
<text x="64.20" y="103.10" text-anchor="start" font-size="10.82" fill="#ffffff"  textLength="20.46" lengthAdjust="spacingAndGlyphs" xml:space="preserve">P10</text>
<path d="M0 115.9h8" stroke="#cccc00" stroke-width="1.8"/>
<text x="8.20" y="118.10" text-anchor="start" font-size="10.82" fill="#ffffff"  textLength="20.46" lengthAdjust="spacingAndGlyphs" xml:space="preserve">P11</text>
<path d="M53 115.9h11" stroke="#ccb000" stroke-width="1.8"/>
<text x="64.20" y="118.10" text-anchor="start" font-size="10.82" fill="#ffffff"  textLength="20.46" lengthAdjust="spacingAndGlyphs" xml:space="preserve">P12</text>
<path d="M0 130.9h8" stroke="#cc9900" stroke-width="1.8"/>
<text x="8.20" y="133.10" text-anchor="start" font-size="10.82" fill="#ffffff"  textLength="20.46" lengthAdjust="spacingAndGlyphs" xml:space="preserve">P13</text>
<path d="M53 130.9h11" stroke="#cc8800" stroke-width="1.8"/>
<text x="64.20" y="133.10" text-anchor="start" font-size="10.82" fill="#ffffff"  textLength="20.46" lengthAdjust="spacingAndGlyphs" xml:space="preserve">P14</text>
<path d="M0 145.9h8" stroke="#cc7700" stroke-width="1.8"/>
<text x="8.20" y="148.10" text-anchor="start" font-size="10.82" fill="#ffffff"  textLength="20.46" lengthAdjust="spacingAndGlyphs" xml:space="preserve">P15</text>
<path d="M53 145.9h11" stroke="#cc6600" stroke-width="1.8"/>
<text x="64.20" y="148.10" text-anchor="start" font-size="10.82" fill="#ffffff"  textLength="20.46" lengthAdjust="spacingAndGlyphs" xml:space="preserve">P16</text>
<path d="M0 160.9h8" stroke="#cc5500" stroke-width="1.8"/>
<text x="8.20" y="163.10" text-anchor="start" font-size="10.82" fill="#ffffff"  textLength="20.46" lengthAdjust="spacingAndGlyphs" xml:space="preserve">P17</text>
<path d="M53 160.9h11" stroke="#cc4422" stroke-width="1.8"/>
<text x="64.20" y="163.10" text-anchor="start" font-size="10.82" fill="#ffffff"  textLength="20.46" lengthAdjust="spacingAndGlyphs" xml:space="preserve">P18</text>
<path d="M0 175.9h8" stroke="#aa3322" stroke-width="1.8"/>
<text x="8.20" y="178.10" text-anchor="start" font-size="10.82" fill="#ffffff"  textLength="20.46" lengthAdjust="spacingAndGlyphs" xml:space="preserve">P19</text>
<path d="M53 175.9h11" stroke="#aa2222" stroke-width="1.8"/>
<text x="64.20" y="178.10" text-anchor="start" font-size="10.82" fill="#ffffff"  textLength="20.46" lengthAdjust="spacingAndGlyphs" xml:space="preserve">P20</text>
<path d="M0 190.9h8" stroke="#0044cc" stroke-width="1.8"/>
<text x="8.20" y="193.10" text-anchor="start" font-size="10.82" fill="#ffffff"  textLength="20.46" lengthAdjust="spacingAndGlyphs" xml:space="preserve">P21</text>
<path d="M53 190.9h11" stroke="#0077dd" stroke-width="1.8"/>
<text x="64.20" y="193.10" text-anchor="start" font-size="10.82" fill="#ffffff"  textLength="20.46" lengthAdjust="spacingAndGlyphs" xml:space="preserve">P22</text>
<path d="M0 205.9h8" stroke="#0099cc" stroke-width="1.8"/>
<text x="8.20" y="208.10" text-anchor="start" font-size="10.82" fill="#ffffff"  textLength="20.46" lengthAdjust="spacingAndGlyphs" xml:space="preserve">P23</text>
<path d="M53 205.9h11" stroke="#00aacc" stroke-width="1.8"/>
<text x="64.20" y="208.10" text-anchor="start" font-size="10.82" fill="#ffffff"  textLength="20.46" lengthAdjust="spacingAndGlyphs" xml:space="preserve">P24</text>
<path d="M0 220.9h8" stroke="#00aa88" stroke-width="1.8"/>
<text x="8.20" y="223.10" text-anchor="start" font-size="10.82" fill="#ffffff"  textLength="20.46" lengthAdjust="spacingAndGlyphs" xml:space="preserve">P25</text>
<path d="M53 220.9h11" stroke="#00b066" stroke-width="1.8"/>
<text x="64.20" y="223.10" text-anchor="start" font-size="10.82" fill="#ffffff"  textLength="20.46" lengthAdjust="spacingAndGlyphs" xml:space="preserve">P26</text>
<path d="M0 235.9h8" stroke="#00b040" stroke-width="1.8"/>
<text x="8.20" y="238.10" text-anchor="start" font-size="10.82" fill="#ffffff"  textLength="20.46" lengthAdjust="spacingAndGlyphs" xml:space="preserve">P27</text>
<path d="M53 235.9h11" stroke="#00c020" stroke-width="1.8"/>
<text x="64.20" y="238.10" text-anchor="start" font-size="10.82" fill="#ffffff"  textLength="20.46" lengthAdjust="spacingAndGlyphs" xml:space="preserve">P28</text>
<path d="M0 250.9h8" stroke="#00cc00" stroke-width="1.8"/>
<text x="8.20" y="253.10" text-anchor="start" font-size="10.82" fill="#ffffff"  textLength="20.46" lengthAdjust="spacingAndGlyphs" xml:space="preserve">P29</text>
<path d="M53 250.9h11" stroke="#cccc00" stroke-width="1.8"/>
<text x="64.20" y="253.10" text-anchor="start" font-size="10.82" fill="#ffffff"  textLength="20.46" lengthAdjust="spacingAndGlyphs" xml:space="preserve">P30</text>
<path d="M0 266.7h8" stroke="#0000ff" stroke-width="1.8"/>
<text x="8.20" y="268.90" text-anchor="start" font-size="10.82" fill="#ffffff"  textLength="39.42" lengthAdjust="spacingAndGlyphs" xml:space="preserve">Control</text>
<path d="M53 266.7h11" stroke="#ffffff" stroke-width="2.8"/>
<text x="64.20" y="268.90" text-anchor="start" font-size="10.82" fill="#ffffff"  textLength="57.34" lengthAdjust="spacingAndGlyphs" xml:space="preserve">Ens. mean</text>
<path d="M53 293.1h11" stroke="#ee4444" stroke-width="2.5"/>
<text x="64.20" y="296.60" text-anchor="start" font-size="10.82" fill="#ffffff"  textLength="59.46" lengthAdjust="spacingAndGlyphs" xml:space="preserve">1991-2020</text>
<text x="64.20" y="306.80" text-anchor="start" font-size="10.82" fill="#ffffff"  textLength="30.94" lengthAdjust="spacingAndGlyphs" xml:space="preserve">mean</text>
<path d="M0 306.9h8" stroke="#00ee00" stroke-width="1.8"/>
<text x="8.20" y="309.10" text-anchor="start" font-size="10.82" fill="#ffffff"  textLength="26.69" lengthAdjust="spacingAndGlyphs" xml:space="preserve">Oper</text>
</svg>
</body></html>
